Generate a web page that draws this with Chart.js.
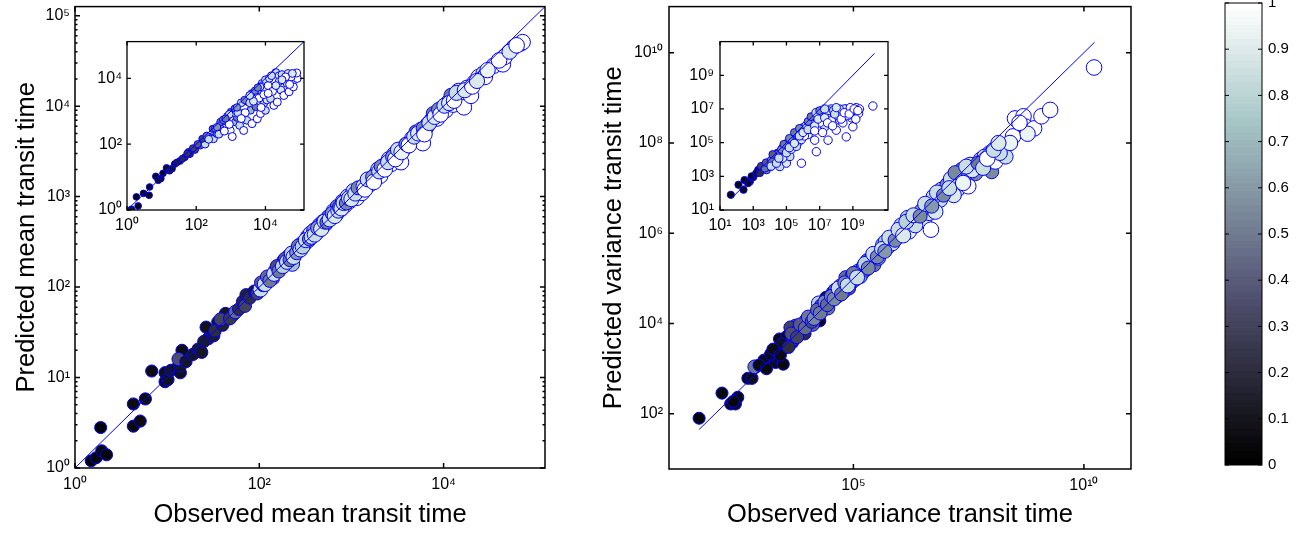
<!DOCTYPE html>
<html>
<head>
<meta charset="utf-8">
<title>Observed vs predicted transit time</title>
<script src="https://cdn.jsdelivr.net/npm/chart.js@4.4.1/dist/chart.umd.min.js"></script>
<style>
  html, body { margin: 0; padding: 0; background: #fff; }
  #fig { position: relative; width: 1311px; height: 533px; overflow: hidden; }
  #fig canvas { position: absolute; }
</style>
</head>
<body>
<div id="fig">
  <canvas id="meanMain" width="570" height="541" style="left:0px;top:-8px"></canvas>
  <canvas id="meanInset" width="250" height="218" style="left:70px;top:27px"></canvas>
  <canvas id="varMain" width="560" height="542" style="left:590px;top:-9px"></canvas>
  <canvas id="varInset" width="250" height="219" style="left:650px;top:26px"></canvas>
  <canvas id="cbar" width="111" height="545" style="left:1200px;top:-12px"></canvas>
</div>
<script>
// ---- mean transit time (left panel) ----
const meanObs = [1.5, 1.7, 1.9, 1.95, 2.2, 4.3, 4.3, 5.1, 5.8, 6.8,
  9.5, 9.5, 10.2, 11, 12.5, 13.9, 13.9, 14.5, 13.3, 16,
  19, 21.7, 23.7, 26.5, 28, 25, 32, 35.5, 33, 40,
  43, 38, 52, 48, 55, 60, 66, 72, 70, 79,
  88, 95, 103, 110, 118, 125, 134, 140, 147, 160,
  168, 175, 184, 195, 210, 228, 240, 250, 270, 286,
  310, 330, 340, 360, 390, 420, 450, 490, 520, 560,
  600, 640, 680, 700, 760, 800, 850, 910, 960, 1050,
  1140, 1250, 1300, 1440, 1550, 1640, 1860, 1950, 2050, 2200,
  2400, 2550, 2700, 2920, 3100, 3300, 3450, 3700, 4000, 4550,
  5000, 5200, 5700, 5950, 6450, 6800, 7400, 7700, 8500, 9000,
  9600, 10500, 11000, 12000, 12700, 14500, 15500, 16600, 18000, 19800,
  21600, 24000, 27000, 28000, 35000, 44000, 46000, 58000, 68000, 72000,
  105, 115, 122, 130, 145, 155, 163, 180, 190, 200,
  215, 225, 235, 255, 265, 280, 295, 320, 350, 370,
  400, 430, 470, 510, 540, 580, 620, 660, 720, 740,
  780, 820, 880, 940, 1000, 1100, 1180, 1350, 1400, 1500,
  1700, 1750, 2000, 2100, 2300, 2500, 2800, 3000, 3200, 3500,
  3900, 4200, 4800, 5300, 6000, 6200, 7000, 8000, 8800, 9300,
  10200, 11500, 13000, 13800, 17000, 20500, 23000, 30000, 40000, 52000,
  62000];
const meanPred = [1.2, 1.3, 2.8, 1.55, 1.4, 5.1, 2.9, 3.3, 5.8, 11.8,
  11.3, 9.0, 9.5, 12, 12.5, 11.3, 13.4, 20, 16, 15,
  18, 20.6, 19, 36, 27, 25, 29, 41, 33, 38,
  51, 44, 49, 45, 53, 57, 69, 82, 62, 76,
  90, 85, 94, 105, 117, 120, 132, 125, 150, 160,
  164, 178, 195, 185, 222, 180, 240, 253, 265, 300,
  300, 358, 330, 390, 425, 400, 485, 530, 500, 600,
  580, 690, 640, 780, 720, 890, 800, 1000, 900, 1150,
  970, 1200, 1100, 1400, 1350, 1540, 1780, 2000, 1700, 2200,
  2300, 2600, 2300, 2960, 2800, 3230, 2400, 3400, 3660, 4400,
  5200, 4700, 5500, 3900, 5800, 6300, 7000, 8300, 7300, 8700,
  9500, 9000, 11000, 13200, 10400, 14800, 12500, 9700, 16000, 13000,
  18200, 21000, 23000, 21000, 28000, 29000, 35000, 45000, 49000, 51000,
  112, 108, 130, 118, 140, 170, 150, 170, 205, 190,
  200, 235, 215, 240, 285, 260, 280, 330, 340, 360,
  380, 450, 440, 530, 520, 560, 650, 610, 700, 760,
  740, 850, 850, 960, 940, 1080, 1250, 1300, 1200, 1550,
  1650, 1450, 1900, 2150, 2000, 2400, 2750, 2600, 3300, 3100,
  3800, 3700, 4600, 5000, 5700, 4900, 6500, 7600, 9200, 8100,
  10100, 10800, 11500, 14000, 15000, 16500, 19000, 25000, 32000, 40000,
  47000];
const meanCol = [0.02, 0.03, 0.02, 0.04, 0.03, 0.05, 0.04, 0.05, 0.06, 0.05,
  0.07, 0.06, 0.08, 0.1, 0.08, 0.07, 0.09, 0.06, 0.35, 0.1,
  0.1, 0.12, 0.1, 0.08, 0.15, 0.12, 0.12, 0.1, 0.2, 0.15,
  0.1, 0.3, 0.12, 0.25, 0.45, 0.2, 0.18, 0.15, 0.3, 0.2,
  0.12, 0.3, 0.85, 0.3, 0.35, 0.5, 0.3, 0.45, 0.4, 0.3,
  0.5, 0.4, 0.5, 0.6, 0.45, 0.75, 0.35, 0.5, 0.7, 0.55,
  0.7, 0.5, 0.85, 0.85, 0.6, 0.8, 0.7, 0.55, 0.85, 0.5,
  0.8, 0.85, 0.9, 0.5, 0.85, 0.6, 0.9, 0.85, 1.0, 0.85,
  1.0, 0.85, 1.0, 0.6, 0.95, 0.85, 0.9, 0.85, 1.0, 0.55,
  0.9, 0.85, 1.0, 0.8, 0.95, 0.85, 1.0, 0.9, 1.0, 0.85,
  0.5, 0.95, 0.85, 1.0, 0.9, 1.0, 0.85, 0.5, 1.0, 0.85,
  0.85, 1.0, 0.55, 0.5, 1.0, 0.85, 0.95, 1.0, 0.9, 1.0,
  0.95, 1.0, 0.85, 1.0, 1.0, 1.0, 1.0, 0.85, 0.9, 1.0,
  0.4, 0.85, 0.45, 0.5, 0.85, 0.35, 0.5, 0.8, 0.4, 0.85,
  0.5, 0.8, 0.85, 0.6, 0.5, 0.85, 0.8, 0.85, 0.55, 0.85,
  0.85, 0.6, 0.9, 0.85, 0.5, 0.85, 0.6, 0.9, 0.85, 0.5,
  0.9, 0.85, 0.55, 0.85, 0.9, 0.85, 0.55, 0.85, 1.0, 0.85,
  0.6, 1.0, 0.85, 0.55, 1.0, 0.85, 0.6, 1.0, 0.85, 0.95,
  0.55, 1.0, 0.85, 0.9, 0.55, 1.0, 0.85, 0.9, 0.55, 1.0,
  0.85, 0.9, 1.0, 0.85, 0.9, 1.0, 0.9, 0.95, 1.0, 0.9,
  1.0];

// inset: mean, second prediction
const meanInsetObs = [1.34, 1.87, 2.1, 4.35, 4.5, 6.8, 9.5, 13.9, 17, 24,
  34, 47, 66, 92, 130, 155, 180, 250, 315, 390,
  490, 640, 770, 960, 1100, 1350, 1500, 1800, 2100, 2350,
  2900, 3700, 4100, 5200, 5800, 7200, 8900, 10000, 11000, 14000,
  17500, 22000, 28000, 34000, 42000, 48000, 64000, 70000, 83000, 300,
  500, 1000, 2000, 4000, 8000, 10000, 20000, 60, 150, 800,
  3000, 6000, 12000, 1200, 25000, 700, 30000, 45000, 80000, 55000,
  3, 8, 11, 20, 28, 40, 55, 80, 110, 200,
  230, 350, 450, 600, 650, 900, 900, 1300, 1600, 2500,
  2600, 3500, 5000, 6500, 7000, 9000, 13000, 16000, 25000, 38000,
  60000, 2000, 4500, 7500, 12000, 20000, 30000, 50000, 400, 700,
  1500, 3500, 6000, 15000];
const meanInsetPred = [1.05, 2.5, 1.33, 2.8, 5.0, 10.5, 9, 19, 15.6, 25,
  31, 40, 50, 67, 91, 130, 100, 164, 145, 206,
  260, 330, 370, 260, 170, 470, 640, 370, 850, 260,
  530, 1060, 420, 1350, 590, 850, 1700, 1060, 2200, 2400,
  1500, 1900, 4400, 3000, 7000, 3900, 5500, 9200, 9900, 290,
  470, 950, 1800, 3500, 7000, 9000, 15000, 58, 145, 700,
  2000, 4500, 6000, 900, 12000, 500, 13000, 14000, 14500, 11000,
  3.2, 8, 13, 18, 28, 36, 52, 75, 100, 180,
  140, 300, 200, 550, 250, 800, 400, 1200, 900, 2200,
  900, 1800, 4200, 2500, 5500, 3200, 10000, 4000, 8000, 11000,
  14000, 600, 2000, 1300, 3500, 6000, 9000, 6500, 330, 600,
  1300, 3000, 5200, 12000];
const meanInsetCol = [0.1, 0.02, 0.03, 0.04, 0.04, 0.05, 0.06, 0.05, 0.15, 0.08,
  0.12, 0.2, 0.2, 0.3, 0.4, 0.5, 0.85, 0.4, 0.85, 0.5,
  0.55, 0.6, 0.85, 1.0, 1.0, 0.7, 0.5, 0.85, 0.6, 1.0,
  0.85, 0.7, 1.0, 0.5, 1.0, 1.0, 0.8, 0.85, 0.9, 0.85,
  1.0, 1.0, 0.9, 1.0, 0.85, 1.0, 1.0, 0.85, 1.0, 0.45,
  0.5, 0.5, 0.85, 0.5, 0.8, 0.85, 0.85, 0.2, 0.3, 0.85,
  0.85, 0.9, 1.0, 0.85, 0.9, 0.6, 0.85, 0.9, 1.0, 1.0,
  0.04, 0.06, 0.05, 0.1, 0.15, 0.2, 0.25, 0.3, 0.4, 0.5,
  0.85, 0.5, 0.85, 0.55, 1.0, 0.85, 1.0, 0.5, 0.85, 0.55,
  1.0, 0.85, 0.55, 1.0, 0.85, 1.0, 0.85, 1.0, 0.9, 1.0,
  0.9, 1.0, 0.9, 1.0, 1.0, 0.9, 0.9, 1.0, 0.6, 0.5,
  0.6, 0.85, 0.55, 0.85];

// ---- variance transit time (right panel) ----
const varObs = [45, 141, 218, 275, 310, 250, 515, 630, 725, 1150,
  2050, 2000, 2300, 3000, 2500, 3600, 3300, 4700, 5600, 4300,
  7400, 8800, 6500, 11500, 15000, 17800, 18600, 25500, 22000, 36000,
  30000, 52000, 45000, 68000, 89000, 80000, 126000, 110000, 165000, 150000,
  235000, 200000, 310000, 280000, 440000, 380000, 620000, 550000, 890000, 750000,
  1.26e6, 1.1e6, 1.8e6, 1.6e6, 2.57e6, 3.4e6, 4.8e6, 4.4e6, 4e6, 7.6e6,
  8.1e6, 1.07e7, 1.8e7, 2e7, 3.1e7, 2.2e7, 3.4e7, 4.5e7, 5.8e7, 9.1e7,
  1e8, 1.2e8, 1.8e8, 2e8, 2.9e8, 3.2e8, 4.9e8, 5.4e8, 8.3e8, 6e8,
  1.2e9, 1.85e9, 1.66e10, 1600, 2800, 5000, 9500, 13000, 20000, 28000,
  40000, 60000, 95000, 140000, 190000, 260000, 350000, 500000, 700000, 1e6,
  1.5e6, 2.2e6, 3e6, 5.5e6, 6e6, 1.3e7, 1.5e7, 2.6e7, 3.8e7, 7e7,
  1.5e8, 2.5e8, 4e8,
  900, 1300, 1800, 2600, 3900, 4500, 6000, 7000, 9000, 10500,
  12500, 14000, 16500, 19000, 24000, 27000, 33000, 38000, 48000, 55000,
  65000, 75000, 100000, 120000, 180000, 210000, 270000, 330000, 420000, 480000,
  600000, 800000, 950000, 1.2e6, 1.4e6, 2e6, 2.8e6, 3.6e6, 5e6, 6.5e6,
  9e6, 1.2e7, 1.6e7, 2.4e7, 2.8e7, 5e7, 6.5e7, 8e7, 1.1e8, 1.4e8];
const varPred = [80, 288, 166, 166, 232, 190, 613, 613, 1100, 1550,
  1380, 2300, 1800, 1260, 4550, 5200, 2970, 3800, 8900, 8200,
  6500, 6000, 7500, 11500, 16000, 28000, 11500, 38000, 20000, 49000,
  30000, 68000, 40000, 105000, 79000, 60000, 145000, 95000, 186000, 130000,
  222000, 250000, 316000, 200000, 560000, 400000, 730000, 500000, 930000, 800000,
  1.2e6, 1.5e6, 1.45e6, 1.1e6, 2e6, 1.9e6, 1.2e6, 2.8e6, 4.3e6, 5.5e6,
  9.3e6, 1.2e7, 9.3e6, 1.55e7, 1.1e7, 2.6e7, 3.3e7, 2.1e7, 4.3e7, 6e7,
  2.3e7, 3.9e7, 8.3e7, 5e7, 1.4e8, 3.5e8, 3.9e8, 2.3e8, 2.1e8, 1.6e8,
  3.9e8, 5.4e8, 4.7e9, 2100, 3500, 4500, 12000, 9500, 25000, 22000,
  55000, 50000, 120000, 110000, 160000, 300000, 280000, 650000, 600000, 1.1e6,
  2.2e6, 1.5e6, 3.2e6, 6.5e6, 3e6, 1.6e7, 7e6, 1.9e7, 2.5e7, 5e7,
  6e7, 1e8, 2.8e8,
  1200, 1000, 2700, 2000, 3000, 6000, 5000, 9500, 8000, 14000,
  11000, 13000, 20000, 17000, 30000, 26000, 40000, 35000, 60000, 45000,
  80000, 70000, 130000, 105000, 210000, 170000, 350000, 300000, 450000, 400000,
  800000, 700000, 1.2e6, 900000, 1.8e6, 2.5e6, 2.4e6, 4.5e6, 4e6, 8e6,
  7e6, 1e7, 2.2e7, 1.3e7, 3e7, 3.6e7, 2.8e7, 4.5e7, 7e7, 1e8];
const varCol = [0.02, 0.03, 0.04, 0.05, 0.04, 0.03, 0.04, 0.06, 0.5, 0.05,
  0.06, 0.08, 0.05, 0.04, 0.05, 0.06, 0.1, 0.2, 0.4, 0.3,
  0.35, 0.2, 0.25, 0.35, 0.3, 0.8, 0.05, 0.1, 0.3, 0.35,
  0.5, 0.55, 0.4, 0.45, 0.5, 0.35, 0.55, 0.5, 0.5, 0.85,
  0.8, 0.5, 0.55, 0.5, 0.8, 0.85, 0.55, 0.85, 0.6, 0.85,
  0.8, 0.85, 0.85, 0.95, 0.85, 0.9, 1.0, 0.85, 0.55, 0.85,
  0.8, 0.55, 0.85, 0.85, 1.0, 0.5, 0.85, 0.55, 0.85, 0.85,
  0.55, 1.0, 0.85, 0.85, 1.0, 1.0, 1.0, 1.0, 1.0, 0.95,
  1.0, 1.0, 1.0, 0.05, 0.08, 0.3, 0.35, 0.45, 0.4, 0.5,
  0.45, 0.55, 0.5, 0.6, 0.55, 0.85, 0.6, 0.8, 0.85, 0.55,
  0.8, 0.85, 0.6, 0.85, 0.9, 0.85, 0.9, 0.55, 0.9, 0.85,
  0.85, 0.95, 1.0,
  0.05, 0.04, 0.06, 0.05, 0.2, 0.35, 0.3, 0.4, 0.45, 0.5,
  0.35, 0.55, 0.45, 0.5, 0.55, 0.45, 0.5, 0.55, 0.85, 0.5,
  0.55, 0.85, 0.5, 0.85, 0.8, 0.55, 0.85, 0.55, 0.85, 0.6,
  0.85, 0.55, 0.85, 0.9, 0.8, 0.85, 0.55, 0.85, 0.6, 0.85,
  0.55, 0.85, 0.55, 0.95, 0.85, 0.5, 0.85, 1.0, 0.85, 0.9];

const varInsetObs = [45, 130, 260, 630, 2000, 4000, 6300, 10000, 20000, 40000,
  80000, 40000, 100000, 160000, 250000, 630000, 800000, 1.6e6, 2.5e6, 5e6,
  6.3e6, 1e7, 2e7, 4e7, 3.2e7, 1e8, 1.6e8, 2e8, 4e8, 6.3e8,
  1e9, 1.26e9, 2.2e9, 1.6e10, 8000, 15000, 30000, 60000, 120000, 300000,
  500000, 2e6, 3e6, 8e6, 1.5e7, 6e7, 4e8, 8e8, 1.6e9, 1000,
  3e8, 1e9, 5e7,
  300, 500, 800, 1500, 2500, 3000, 5000, 6000, 12000, 12000,
  25000, 25000, 50000, 60000, 100000, 100000, 200000, 200000, 400000, 400000,
  700000, 800000, 1e6, 1.2e6, 1.5e6, 3e6, 4e6, 4e6, 7e6, 1e7,
  1.2e7, 2.5e7, 3e7, 5e7, 7e7, 1.2e8, 1.5e8, 2.5e8, 5e8, 7e8,
  1.5e9, 2.5e9,
  15000, 35000, 70000, 150000, 150000, 300000, 300000, 600000, 600000, 1e6,
  2e6, 2e6, 3e6, 5e6, 6e6, 8e6, 1e7, 2e7, 2e7, 3e7,
  8e7, 1e8, 2e8, 3e8, 6e8, 1.2e9, 2e9, 5e6, 1.5e7, 6e7];
const varInsetPred = [80, 315, 160, 500, 2400, 3800, 2400, 3800, 7400, 18600,
  36000, 3800, 6000, 15000, 140000, 350000, 6000, 870000, 1.4e6, 140000,
  29000, 3.4e6, 870000, 5.4e6, 140000, 550000, 2.1e6, 5.4e6, 220000, 8.5e6,
  870000, 5.4e6, 5.4e6, 1.5e7, 6000, 10000, 25000, 50000, 100000, 200000,
  100000, 300000, 2e6, 5e6, 8e6, 3e6, 1e7, 3e6, 1.2e7, 900,
  1e7, 1e7, 1e7,
  600, 400, 1000, 1500, 1600, 4000, 3000, 6500, 9000, 4000,
  20000, 6000, 40000, 12000, 80000, 25000, 160000, 40000, 300000, 60000,
  600000, 150000, 800000, 250000, 1e6, 600000, 2.5e6, 1.2e6, 4e6, 1.5e6,
  6e6, 4e6, 8e6, 2e6, 8e6, 4e6, 1e7, 1.5e6, 4e6, 1.2e7,
  2.5e6, 1e7,
  20000, 12000, 80000, 50000, 180000, 400000, 90000, 700000, 250000, 400000,
  1.8e6, 600000, 3.5e6, 1e6, 6e6, 2.5e6, 8e6, 3e6, 1e7, 1.5e6,
  5e6, 1.2e7, 2.5e6, 6e6, 5e6, 1e7, 8e6, 500000, 400000, 1e6];
const varInsetCol = [0.02, 0.03, 0.05, 0.05, 0.05, 0.3, 0.55, 0.85, 0.5, 0.85,
  0.4, 0.85, 0.9, 0.85, 0.6, 0.5, 1.0, 0.85, 0.7, 1.0,
  1.0, 0.5, 0.85, 0.85, 1.0, 1.0, 0.9, 0.85, 1.0, 1.0,
  1.0, 1.0, 1.0, 1.0, 0.2, 0.5, 0.4, 0.5, 0.55, 0.85,
  0.9, 1.0, 0.85, 0.55, 0.85, 1.0, 1.0, 1.0, 1.0, 0.1,
  0.9, 1.0, 0.85,
  0.04, 0.05, 0.05, 0.06, 0.2, 0.3, 0.5, 0.4, 0.5, 0.85,
  0.5, 0.85, 0.55, 0.9, 0.55, 0.85, 0.5, 0.9, 0.55, 0.85,
  0.5, 0.9, 0.55, 1.0, 0.85, 0.9, 0.55, 1.0, 0.85, 1.0,
  0.85, 0.9, 0.85, 1.0, 0.85, 1.0, 0.85, 1.0, 1.0, 1.0,
  1.0, 1.0,
  0.4, 0.85, 0.5, 0.85, 0.55, 0.5, 0.9, 0.55, 0.85, 0.9,
  0.55, 0.85, 0.5, 0.9, 0.85, 0.9, 0.55, 0.9, 0.85, 1.0,
  0.85, 0.9, 1.0, 1.0, 1.0, 1.0, 1.0, 1.0, 1.0, 1.0];

// 1:1 reference lines
const meanLineX = [1, 1.26e5], meanLineY = [1, 1.26e5];
const meanInsetLineX = [1, 1.3e5], meanInsetLineY = [1, 1.3e5];
const varLineX = [45, 1.7e10], varLineY = [45, 1.7e10];
const varInsetLineX = [50, 2e10], varInsetLineY = [50, 2e10];

// ticks
const meanXTicks = [1, 1e2, 1e4], meanXLabels = ['10⁰', '10²', '10⁴'];
const meanYTicks = [1, 1e1, 1e2, 1e3, 1e4, 1e5];
const meanYLabels = ['10⁰', '10¹', '10²', '10³', '10⁴', '10⁵'];
const meanInsetTicks = [1, 1e2, 1e4], meanInsetLabels = ['10⁰', '10²', '10⁴'];
const varXTicks = [1e5, 1e10], varXLabels = ['10⁵', '10¹⁰'];
const varYTicks = [1e2, 1e4, 1e6, 1e8, 1e10];
const varYLabels = ['10²', '10⁴', '10⁶', '10⁸', '10¹⁰'];
const varInsetTicks = [1e1, 1e3, 1e5, 1e7, 1e9];
const varInsetLabels = ['10¹', '10³', '10⁵', '10⁷', '10⁹'];
const cbTicks = [0, 0.1, 0.2, 0.3, 0.4, 0.5, 0.6, 0.7, 0.8, 0.9, 1];
const cbLabels = ['0', '0.1', '0.2', '0.3', '0.4', '0.5', '0.6', '0.7', '0.8', '0.9', '1'];

const FONT = 'Helvetica, "Liberation Sans", Arial, sans-serif';
const BLUE = '#0000ff';
Chart.defaults.font.family = FONT;
Chart.defaults.color = '#000';
Chart.defaults.plugins.legend.display = false;
Chart.defaults.plugins.tooltip.enabled = false;

// matlab "bone" colormap
const bone = (v) => {
	const cl = t => Math.min(1, Math.max(0, t));
	const r = (7 * v + cl((v - 0.75) / 0.25)) / 8;
	const g = (7 * v + cl((v - 0.375) / 0.375)) / 8;
	const b = (7 * v + cl(v / 0.375)) / 8;
	return `rgb(${Math.round(r * 255)},${Math.round(g * 255)},${Math.round(b * 255)})`;
};

// box round the axes, ticks pointing inwards on all four sides
const boxPlugin = {
	id: 'box',
	beforeDraw(chart, args, o) {
		if (!o.fill) { return; }
		const {ctx, chartArea: a} = chart;
		ctx.save();
		ctx.fillStyle = '#fff';
		ctx.fillRect(a.left, a.top, a.right - a.left, a.bottom - a.top);
		ctx.restore();
	},
	afterDraw(chart, args, o) {
		const {ctx, chartArea: a, scales} = chart;
		const L = o.len;
		ctx.save();
		ctx.strokeStyle = '#000';
		ctx.lineWidth = o.lw;
		ctx.beginPath();
		const seg = (x1, y1, x2, y2) => { ctx.moveTo(x1, y1); ctx.lineTo(x2, y2); };
		(o.xTicks || []).forEach(v => {
			let p = scales.x.getPixelForValue(v);
			seg(p, a.bottom, p, a.bottom - L);
			seg(p, a.top, p, a.top + L);
		});
		(o.yTicks || []).forEach(v => {
			let p = scales.y.getPixelForValue(v);
			seg(a.left, p, a.left + L, p);
			seg(a.right, p, a.right - L, p);
		});
		if (o.yMinor) {
			let s = scales.y;
			for (let e = Math.floor(Math.log10(s.min)); e <= Math.ceil(Math.log10(s.max)); e++) {
				for (let k = 2; k <= 9; k++) {
					let v = k * Math.pow(10, e);
					if (v <= s.min || v >= s.max) { continue; }
					let p = s.getPixelForValue(v);
					seg(a.left, p, a.left + L / 2, p);
					seg(a.right, p, a.right - L / 2, p);
				}
			}
		}
		ctx.stroke();
		ctx.strokeRect(a.left, a.top, a.right - a.left, a.bottom - a.top);
		ctx.restore();
	}
};

const logAxis = (pos, min, max, ticks, labels, size, pad, title, titlePad) => ({
	type: 'logarithmic',
	position: pos,
	min: min,
	max: max,
	grid: { display: false, drawTicks: false },
	border: { display: false },
	afterBuildTicks: a => { a.ticks = ticks.map(v => ({ value: v })); },
	afterFit: a => { if (pos === 'bottom') { a.height = size; } else { a.width = size; } },
	ticks: {
		autoSkip: false,
		maxRotation: 0,
		padding: pad,
		font: { size: 16 },
		callback: (v, i) => labels[i]
	},
	title: title ? {
		display: true,
		text: title,
		font: { size: 25.5 },
		padding: titlePad
	} : { display: false }
});

const scatterChart = (id, o) => new Chart(document.getElementById(id), {
	type: 'scatter',
	data: {
		datasets: [{
			type: 'line',
			data: o.lineX.map((v, i) => ({ x: v, y: o.lineY[i] })),
			borderColor: BLUE,
			borderWidth: 1,
			pointRadius: 0,
			fill: false
		}, {
			data: o.xs.map((v, i) => ({ x: v, y: o.ys[i] })),
			backgroundColor: o.cs.map(bone),
			borderColor: BLUE,
			borderWidth: 1,
			pointRadius: o.cs.map(c => o.r + o.rGrow * c),
			pointHoverRadius: o.cs.map(c => o.r + o.rGrow * c)
		}]
	},
	options: {
		responsive: false,
		animation: false,
		devicePixelRatio: 1,
		events: [],
		layout: { padding: o.padding },
		scales: {
			x: logAxis('bottom', o.xMin, o.xMax, o.xTicks, o.xLabels, o.xSize, o.xPad, o.xTitle, { top: 0, bottom: 3 }),
			y: logAxis('left', o.yMin, o.yMax, o.yTicks, o.yLabels, o.ySize, o.yPad, o.yTitle, { top: o.yTitlePad, bottom: 0 })
		},
		plugins: {
			box: { fill: o.fill, lw: o.lw, len: o.len, xTicks: o.xTicks, yTicks: o.yTicks, yMinor: o.yMinor }
		}
	},
	plugins: [boxPlugin]
});

scatterChart('meanMain', {
	xs: meanObs, ys: meanPred, cs: meanCol, lineX: meanLineX, lineY: meanLineY, r: 6, rGrow: 1.8,
	xMin: 1, xMax: 1.26e5, yMin: 1, yMax: 1.26e5,
	xTicks: meanXTicks, xLabels: meanXLabels, yTicks: meanYTicks, yLabels: meanYLabels,
	xSize: 65, ySize: 75, xPad: 7, yPad: 5,
	xTitle: 'Observed mean transit time', yTitle: 'Predicted mean transit time', yTitlePad: 12,
	padding: { left: 0, right: 25, top: 0, bottom: 0 },
	fill: false, lw: 1.5, len: 5, yMinor: true
});

scatterChart('meanInset', {
	xs: meanInsetObs, ys: meanInsetPred, cs: meanInsetCol, lineX: meanInsetLineX, lineY: meanInsetLineY, r: 3.3, rGrow: 0.7,
	xMin: 1, xMax: 1.3e5, yMin: 1, yMax: 1.3e5,
	xTicks: meanInsetTicks, xLabels: meanInsetLabels, yTicks: meanInsetTicks, yLabels: meanInsetLabels,
	xSize: 35, ySize: 57, xPad: 6, yPad: 5,
	padding: { left: 0, right: 16, top: 0, bottom: 0 },
	fill: true, lw: 1.3, len: 4, yMinor: false
});

scatterChart('varMain', {
	xs: varObs, ys: varPred, cs: varCol, lineX: varLineX, lineY: varLineY, r: 6, rGrow: 1.8,
	xMin: 10, xMax: 1.05e11, yMin: 6, yMax: 1.05e11,
	xTicks: varXTicks, xLabels: varXLabels, yTicks: varYTicks, yLabels: varYLabels,
	xSize: 64, ySize: 79, xPad: 7, yPad: 6,
	xTitle: 'Observed variance transit time', yTitle: 'Predicted variance transit time', yTitlePad: 9,
	padding: { left: 0, right: 19, top: 0, bottom: 0 },
	fill: false, lw: 1.5, len: 5, yMinor: false
});

scatterChart('varInset', {
	xs: varInsetObs, ys: varInsetPred, cs: varInsetCol, lineX: varInsetLineX, lineY: varInsetLineY, r: 3.6, rGrow: 0.6,
	xMin: 10, xMax: 1.3e11, yMin: 10, yMax: 1e11,
	xTicks: varInsetTicks, xLabels: varInsetLabels, yTicks: varInsetTicks, yLabels: varInsetLabels,
	xSize: 35, ySize: 70, xPad: 6, yPad: 6,
	padding: { left: 0, right: 12, top: 0, bottom: 0 },
	fill: true, lw: 1.3, len: 4, yMinor: false
});

// colour bar
new Chart(document.getElementById('cbar'), {
	type: 'bar',
	data: {
		labels: [''],
		datasets: [{
			data: [[0, 1]],
			barPercentage: 1,
			categoryPercentage: 1,
			borderWidth: 0,
			backgroundColor: ctx => {
				const a = ctx.chart.chartArea;
				if (!a) { return '#000'; }
				const g = ctx.chart.ctx.createLinearGradient(0, a.bottom, 0, a.top);
				for (let k = 0; k < 64; k++) {
					g.addColorStop(k / 64, bone(k / 63));
					g.addColorStop((k + 1) / 64, bone(k / 63));
				}
				return g;
			}
		}]
	},
	options: {
		responsive: false,
		animation: false,
		devicePixelRatio: 1,
		events: [],
		layout: { padding: { left: 25, right: 0, top: 0, bottom: 68 } },
		scales: {
			x: { display: false },
			y: {
				position: 'right',
				min: 0,
				max: 1,
				grid: { display: false, drawTicks: false },
				border: { display: false },
				afterBuildTicks: a => { a.ticks = cbTicks.map(v => ({ value: v })); },
				afterFit: a => { a.width = 49; },
				ticks: { padding: 6, font: { size: 15 }, callback: (v, i) => cbLabels[i] }
			}
		},
		plugins: {
			box: { fill: false, lw: 1, len: 4, yTicks: cbTicks }
		}
	},
	plugins: [boxPlugin]
});
</script>
</body>
</html>
